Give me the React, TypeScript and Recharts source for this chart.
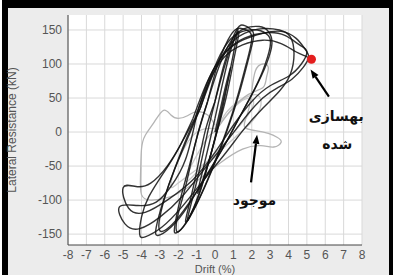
import React from "react";
import {
  LineChart,
  Line,
  XAxis,
  YAxis,
  CartesianGrid,
  ReferenceDot,
  ReferenceLine,
} from "recharts";

// drift (%) / lateral resistance (kN) pairs
const driftTicks = [-8, -7, -6, -5, -4, -3, -2, -1, 0, 1, 2, 3, 4, 5, 6, 7, 8];
const forceTicks = [-150, -100, -50, 0, 50, 100, 150];

// existing (grey)
const existing1 = [
  [0, 0], [0.5, 20], [1, 35], [1.6, 48], [2.1, 45], [1.8, 25], [1.2, 5], [0.4, -20],
  [-0.5, -45], [-1.2, -65], [-1.6, -72], [-1.3, -50], [-0.8, -25], [-0.3, -5], [0, 0],
];
const existing2 = [
  [0, 0], [0.6, 28], [1.3, 45], [2.2, 55], [2.5, 40], [2.0, 15], [1.2, -5], [0.2, -30],
  [-1, -55], [-2, -75], [-2.4, -80], [-2.2, -55], [-1.8, -30], [-1.2, -5], [-0.5, 5], [0, 5],
];
const existing3 = [
  [0, 0], [0.8, 30], [1.8, 55], [2.6, 65], [2.8, 80], [2.9, 95], [2.6, 100], [2.2, 90],
  [2.0, 60], [1.8, 30], [1.6, 8], [2.2, 2], [2.9, -2], [3.4, -8], [3.6, -15], [3.2, -22],
  [2.5, -20], [1.5, -25], [0.3, -45], [-0.9, -70], [-2, -90], [-2.8, -98], [-3.5, -100],
  [-4, -92], [-4.05, -60], [-4.0, -25], [-3.8, -5], [-3.3, 15], [-2.8, 32], [-2.4, 25],
  [-2, 20], [-1.5, 24], [-1, 30], [-0.4, 25], [0, 10],
];

// retrofitted (black)
const retro1 = [
  [0, 0], [0.3, 35], [0.6, 70], [0.85, 95], [0.6, 65], [0.2, 15], [-0.2, -30], [-0.6, -65],
  [-0.95, -90], [-0.7, -60], [-0.3, -15], [0, 20],
];
const retro2 = [
  [0, 20], [0.4, 70], [0.8, 115], [1.1, 140], [1.25, 150], [1.0, 115], [0.6, 60], [0.2, 10],
  [-0.3, -40], [-0.8, -85], [-1.3, -120], [-1.5, -128], [-1.2, -95], [-0.8, -50], [-0.4, 0], [0, 45],
];
const retro2b = [
  [0, 45], [0.4, 85], [0.8, 120], [1.1, 140], [1.3, 146], [1.05, 110], [0.6, 50], [0.1, 0],
  [-0.4, -50], [-0.9, -95], [-1.4, -125], [-1.6, -130], [-1.3, -95], [-0.9, -45], [-0.5, 5], [0, 45],
];
const retro3 = [
  [0, 45], [0.5, 100], [1.0, 140], [1.4, 157], [1.9, 152], [2.1, 140], [1.8, 105], [1.3, 55],
  [0.7, 5], [0, -45], [-0.8, -95], [-1.6, -135], [-2.1, -148], [-2.2, -140], [-1.9, -100],
  [-1.4, -50], [-0.9, 0], [-0.4, 45],
];
const retro3b = [
  [-0.4, 45], [0.1, 95], [0.7, 135], [1.2, 152], [1.7, 150], [2.0, 138], [1.7, 100], [1.2, 50],
  [0.6, 0], [-0.1, -50], [-0.9, -100], [-1.7, -138], [-2.1, -145], [-2.0, -120], [-1.6, -80],
  [-1.1, -20], [-0.7, 20], [-0.4, 45],
];
const retro4 = [
  [-0.4, 45], [0.2, 95], [0.9, 135], [1.6, 152], [2.4, 155], [2.9, 148], [3.1, 130], [2.8, 100],
  [2.2, 65], [1.4, 25], [0.5, -20], [-0.5, -65], [-1.5, -110], [-2.4, -140], [-3.1, -152],
  [-3.2, -140], [-2.8, -100], [-2.2, -55], [-1.5, -10], [-0.8, 35],
];
const retro4b = [
  [-0.8, 35], [-0.1, 90], [0.7, 132], [1.5, 148], [2.3, 150], [2.9, 142], [3.0, 125], [2.6, 90],
  [2.0, 55], [1.2, 15], [0.3, -30], [-0.7, -75], [-1.7, -115], [-2.5, -140], [-3.0, -145],
  [-3.0, -125], [-2.6, -85], [-2, -40], [-1.4, 0], [-0.8, 35],
];
const retro5 = [
  [-0.8, 35], [-0.1, 85], [0.7, 125], [1.6, 145], [2.6, 152], [3.5, 150], [4.1, 140], [4.3, 115],
  [4.1, 85], [3.5, 60], [2.6, 35], [1.6, 5], [0.6, -30], [-0.6, -70], [-1.8, -110], [-2.9, -140],
  [-3.8, -154], [-4.1, -150], [-4.0, -125], [-3.6, -95], [-2.8, -60], [-2, -25], [-1.2, 20],
];
const retro6 = [
  [-1.2, 20], [-0.4, 75], [0.5, 115], [1.5, 135], [2.6, 145], [3.6, 148], [4.4, 138], [4.9, 122],
  [5.1, 110], [4.8, 95], [4.2, 78], [3.4, 65], [2.6, 50], [1.6, 20], [0.6, -15], [-0.6, -55],
  [-1.8, -95], [-3, -125], [-4.1, -142], [-4.9, -135], [-5.2, -110], [-4.2, -108], [-3.2, -103],
  [-2.4, -80], [-1.6, -40], [-1.0, 25],
];
const retro7 = [
  [-1.0, 25], [-0.3, 80], [0.6, 118], [1.6, 138], [2.8, 146], [3.8, 142], [4.6, 128], [5.0, 118],
  [4.7, 100], [4.0, 82], [3.0, 68], [2.0, 45], [1.0, 10], [0, -30], [-1.2, -70], [-2.6, -100],
  [-3.8, -118], [-4.7, -112], [-5.0, -82], [-4.3, -80], [-3.5, -75], [-2.6, -50], [-1.8, -15],
  [-1.1, 20],
];
const retro8 = [
  [-1.1, 20], [-0.3, 75], [0.5, 110], [1.5, 128], [2.6, 135], [3.6, 130], [4.4, 118], [4.9, 112],
  [5.25, 107],
];

const existingLoops = [existing1, existing2, existing3];
const retroLoops = [retro1, retro2, retro2b, retro3, retro3b, retro4, retro4b, retro5, retro6, retro7, retro8];
const toRows = (pts: number[][]) => pts.map(([d, f]) => ({ d, f }));
const lastPoint = retro8[retro8.length - 1];

const Arrow = (p: any) => {
  const { x1, y1, x2, y2 } = p;
  const a = Math.atan2(y2 - y1, x2 - x1);
  const L = 9;
  const w = 3.5;
  const bx = x2 - L * Math.cos(a);
  const by = y2 - L * Math.sin(a);
  const pts = `${x2},${y2} ${bx + w * Math.sin(a)},${by - w * Math.cos(a)} ${bx - w * Math.sin(a)},${by + w * Math.cos(a)}`;
  return (
    <g>
      <line x1={x1} y1={y1} x2={bx} y2={by} stroke="#000" strokeWidth={2.2} />
      <polygon points={pts} fill="#000" />
    </g>
  );
};

const tickStyle = { fill: "#555", fontSize: 12, fontFamily: "Liberation Sans, Arial, sans-serif" };
const noteStyle = { fill: "#111", fontSize: 14, fontWeight: 700, fontFamily: "DejaVu Sans, sans-serif" };

export default function App() {
  return (
    <div style={{ position: "absolute", left: 0, top: 0, width: 393, height: 275 }}>
      <div
        style={{
          position: "absolute",
          left: 2,
          top: 0,
          width: 391,
          height: 275,
          boxSizing: "border-box",
          background: "#ececec",
          borderTop: "8px solid #000",
          borderLeft: "6px solid #000",
          borderRight: "4px solid #000",
        }}
      />
      <div style={{ position: "absolute", left: 0, top: 0 }}>
        <LineChart width={393} height={275} margin={{ top: 15, right: 31, bottom: 0, left: 0 }}>
          <CartesianGrid stroke="#d9d9d9" fill="#fff" verticalValues={driftTicks} horizontalValues={forceTicks} />
          <XAxis
            type="number"
            dataKey="d"
            domain={[-8, 8]}
            ticks={driftTicks}
            allowDataOverflow
            height={30}
            stroke="#444"
            tickLine={false}
            tickSize={3}
            tickMargin={2}
            tick={tickStyle}
            label={{ value: "Drift (%)", position: "insideBottom", offset: 2, style: { ...tickStyle, fontSize: 11 } }}
          />
          <YAxis
            type="number"
            dataKey="f"
            domain={[-166, 172]}
            ticks={forceTicks}
            allowDataOverflow
            width={68}
            stroke="#444"
            tickLine={false}
            tickSize={4}
            tickMargin={2}
            tick={tickStyle}
            label={{
              value: "Lateral Resistance (kN)",
              angle: -90,
              position: "insideLeft",
              offset: 12,
              style: { ...tickStyle, textAnchor: "middle" },
            }}
          />
          <XAxis
            xAxisId="top"
            orientation="top"
            type="number"
            domain={[-8, 8]}
            ticks={driftTicks}
            height={0}
            mirror
            stroke="#444"
            tickSize={3}
            tickFormatter={() => ""}
          />
          <YAxis
            yAxisId="right"
            orientation="right"
            type="number"
            domain={[-166, 172]}
            ticks={forceTicks}
            width={0}
            mirror
            stroke="#444"
            tickSize={3}
            tickFormatter={() => ""}
          />
          {existingLoops.map((loop, i) => (
            <Line
              key={"e" + i}
              data={toRows(loop)}
              dataKey="f"
              type="natural"
              stroke={i === 2 ? "#b4b4b4" : "#c8c8c8"}
              strokeWidth={1.3}
              dot={false}
              isAnimationActive={false}
            />
          ))}
          {retroLoops.map((loop, i) => (
            <Line
              key={"r" + i}
              data={toRows(loop)}
              dataKey="f"
              type="natural"
              stroke="#111"
              strokeOpacity={0.85}
              strokeWidth={1.4}
              dot={false}
              isAnimationActive={false}
            />
          ))}
          <ReferenceDot x={lastPoint[0]} y={lastPoint[1]} r={4.5} fill="#e41e1e" stroke="none" />
          <ReferenceLine segment={[{ x: 6.2, y: 52 }, { x: 5.2, y: 92 }]} shape={Arrow} ifOverflow="visible" />
          <ReferenceLine segment={[{ x: 1.96, y: -74 }, { x: 2.29, y: -4 }]} shape={Arrow} ifOverflow="visible" />
          <ReferenceDot x={6.6} y={23} r={0} label={{ value: "بهسازی", position: "center", style: noteStyle }} />
          <ReferenceDot x={6.65} y={-18} r={0} label={{ value: "شده", position: "center", style: noteStyle }} />
          <ReferenceDot x={2.15} y={-100} r={0} label={{ value: "موجود", position: "center", style: noteStyle }} />
        </LineChart>
      </div>
    </div>
  );
}
